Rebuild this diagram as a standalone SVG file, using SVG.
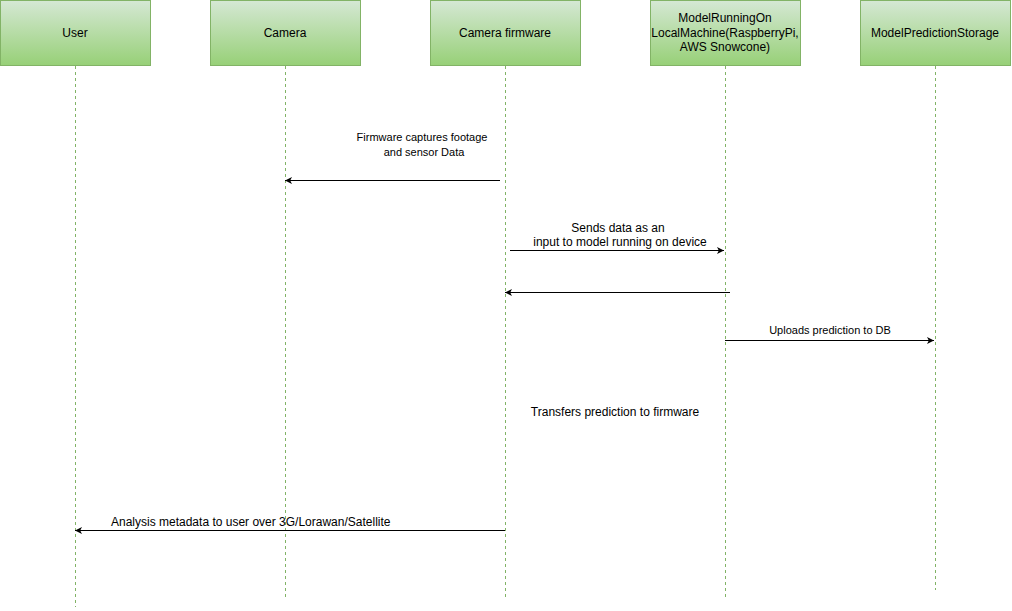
<svg xmlns="http://www.w3.org/2000/svg" width="1012" height="611" viewBox="0 0 1012 611">
<defs>
<linearGradient id="g" x1="0" y1="0" x2="0" y2="1">
<stop offset="0" stop-color="#d5e8d4"/>
<stop offset="1" stop-color="#97d077"/>
</linearGradient>
<marker id="ah" markerWidth="8" markerHeight="8" refX="7" refY="4" orient="auto" markerUnits="userSpaceOnUse">
<path d="M0,0.5 L7,4 L0,7.5 L1.8,4 Z" fill="#000"/>
</marker>
<style>
.box{fill:url(#g);stroke:#82b366;stroke-width:1}
.life{stroke:#82b366;stroke-width:1;stroke-dasharray:3 3;fill:none}
.t{font-family:"Liberation Sans",Arial,Helvetica,sans-serif;font-size:12px;fill:#000;text-anchor:middle}
.s{font-size:11px}
.msg{stroke:#000;stroke-width:1;fill:none;marker-end:url(#ah)}
</style>
</defs>
<rect width="1012" height="611" fill="#fff"/>
<g id="user">
<rect class="box" x="0.5" y="0.5" width="150" height="65"/>
<text class="t" x="75" y="37">User</text>
<line class="life" x1="75.5" y1="66" x2="75.5" y2="607"/>
</g>
<g id="camera">
<rect class="box" x="210.5" y="0.5" width="150" height="65"/>
<text class="t" x="285" y="37">Camera</text>
<line class="life" x1="285.5" y1="66" x2="285.5" y2="600"/>
</g>
<g id="firmware">
<rect class="box" x="430.5" y="0.5" width="150" height="65"/>
<text class="t" x="505" y="37">Camera firmware</text>
<line class="life" x1="505.5" y1="66" x2="505.5" y2="600"/>
</g>
<g id="model">
<rect class="box" x="650.5" y="0.5" width="150" height="65"/>
<text class="t" x="725" y="22">ModelRunningOn</text>
<text class="t" x="725" y="37">LocalMachine(RaspberryPi,</text>
<text class="t" x="725" y="51">AWS Snowcone)</text>
<line class="life" x1="725.5" y1="66" x2="725.5" y2="600"/>
</g>
<g id="storage">
<rect class="box" x="860.5" y="0.5" width="150" height="65"/>
<text class="t" x="935" y="37">ModelPredictionStorage</text>
<line class="life" x1="935.5" y1="66" x2="935.5" y2="590"/>
</g>
<g id="connectors">
<line class="msg" x1="500" y1="180.5" x2="285" y2="180.5"/>
<text class="t s" x="422" y="141">Firmware captures footage</text>
<text class="t s" x="424" y="156">and sensor Data</text>
<line class="msg" x1="510" y1="250.5" x2="724" y2="250.5"/>
<text class="t" x="618" y="232">Sends data as an</text>
<text class="t" x="620" y="246">input to model running on device</text>
<line class="msg" x1="730" y1="292.5" x2="505" y2="292.5"/>
<line class="msg" x1="725" y1="340.5" x2="934" y2="340.5"/>
<text class="t s" x="830" y="334">Uploads prediction to DB</text>
<text class="t" x="615" y="416">Transfers prediction to firmware</text>
<line class="msg" x1="505" y1="530.5" x2="75" y2="530.5"/>
<text class="t" x="111" y="526" style="text-anchor:start">Analysis metadata to user over 3G/Lorawan/Satellite</text>
</g>
</svg>
